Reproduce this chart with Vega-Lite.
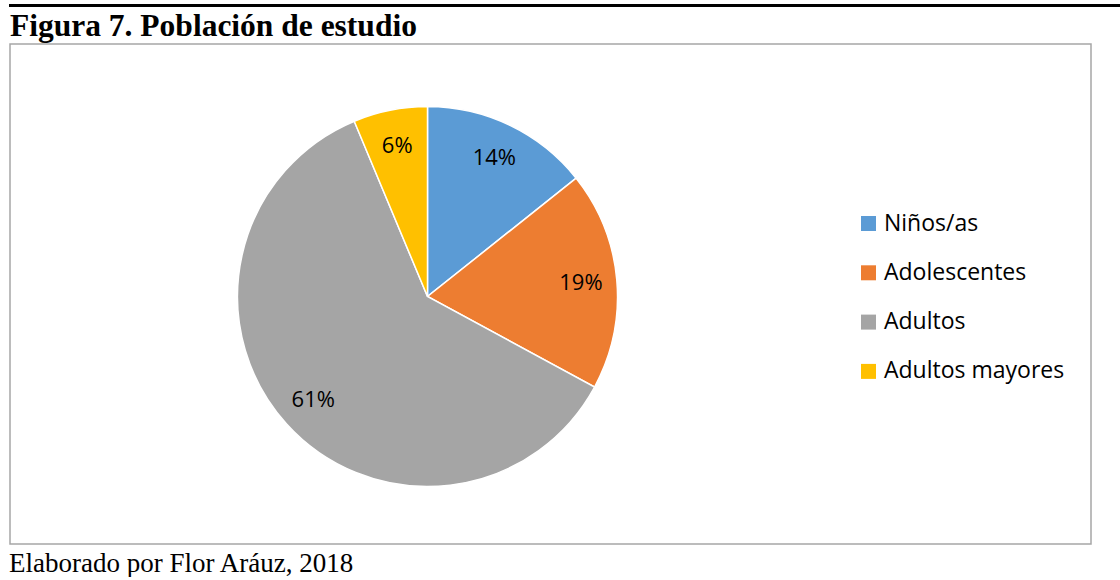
{
  "$schema": "https://vega.github.io/schema/vega-lite/v6.json",
  "padding": {"left": 9, "top": 1, "right": 0, "bottom": 0},
  "background": "white",
  "config": {"view": {"stroke": null}},
  "spacing": 0,
  "title": {
    "text": "Elaborado por Flor Aráuz, 2018",
    "orient": "bottom",
    "anchor": "start",
    "font": "Liberation Serif",
    "fontSize": 27,
    "fontWeight": "normal",
    "color": "black",
    "offset": 6
  },
  "vconcat": [
    {
      "width": 1111,
      "height": 1,
      "data": {"values": [{"k": 1}]},
      "mark": {"type": "point", "opacity": 0},
      "encoding": {},
      "view": {"stroke": "black", "strokeWidth": 2}
    },
    {
      "width": 1081,
      "height": 500,
      "title": {
        "text": "Figura 7. Población de estudio",
        "anchor": "start",
        "font": "Liberation Serif",
        "fontSize": 31.5,
        "fontWeight": "bold",
        "color": "black",
        "offset": 1.5
      },
      "view": {"stroke": "#a6a6a6", "strokeWidth": 1.5},
      "data": {
        "values": [
          {"grupo": "Niños/as", "porcentaje": 14.3, "etiqueta": "14%", "orden": 1},
          {"grupo": "Adolescentes", "porcentaje": 18.6, "etiqueta": "19%", "orden": 2},
          {"grupo": "Adultos", "porcentaje": 60.8, "etiqueta": "61%", "orden": 3},
          {"grupo": "Adultos mayores", "porcentaje": 6.3, "etiqueta": "6%", "orden": 4}
        ]
      },
      "encoding": {
        "theta": {"field": "porcentaje", "type": "quantitative", "stack": true},
        "order": {"field": "orden", "type": "quantitative"},
        "color": {
          "field": "grupo",
          "type": "nominal",
          "scale": {
            "domain": ["Niños/as", "Adolescentes", "Adultos", "Adultos mayores"],
            "range": ["#5B9BD5", "#ED7D31", "#A5A5A5", "#FFC000"]
          },
          "legend": {
            "title": null,
            "orient": "none",
            "legendX": 847,
            "legendY": 207,
            "padding": 0,
            "symbolType": "square",
            "symbolSize": 225,
            "symbolStrokeWidth": 0,
            "symbolOpacity": 1,
            "labelFont": "Open Sans",
            "labelFontSize": 23,
            "labelColor": "#000000",
            "labelOffset": 4,
            "rowPadding": 25.3,
            "labelLimit": 300
          }
        }
      },
      "layer": [
        {
          "mark": {"type": "arc", "outerRadius": 190, "stroke": "white", "strokeWidth": 1.5, "xOffset": -123, "yOffset": 2.5}
        },
        {
          "mark": {"type": "text", "radius": 154, "font": "Open Sans", "fontSize": 22, "color": "#000000", "xOffset": -123, "yOffset": 2.5},
          "encoding": {
            "text": {"field": "etiqueta", "type": "nominal"},
            "color": {"value": "#000000"}
          }
        }
      ]
    }
  ]
}
